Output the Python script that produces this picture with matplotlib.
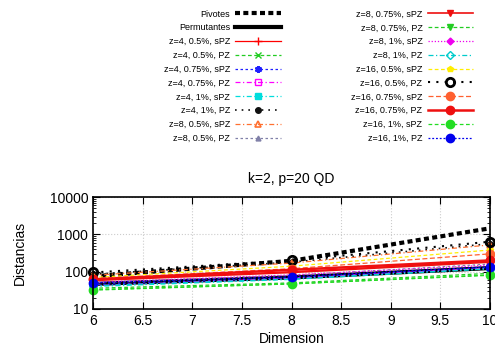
import matplotlib
matplotlib.use('Agg')
import matplotlib.pyplot as plt

plt.rcParams['font.family'] = ['Liberation Sans', 'DejaVu Sans']

dims = [6, 8, 10]

pivotes = [75, 195, 1450]
permutantes = [47, 70, 125]
z4_05_spz = [60, 100, 190]
z4_05_pz = [33, 47, 80]
z4_075_spz = [45, 68, 130]
z4_075_pz = [42, 66, 125]
z4_1_spz = [40, 62, 120]
z4_1_pz = [85, 180, 560]
z8_05_spz = [80, 170, 520]
z8_05_pz = [50, 80, 160]
z8_075_spz = [58, 95, 180]
z8_075_pz = [36, 50, 90]
z8_1_spz = [52, 82, 150]
z8_1_pz = [42, 64, 120]
z16_05_spz = [70, 140, 380]
z16_05_pz = [95, 200, 635]
z16_075_spz = [65, 120, 300]
z16_075_pz = [62, 112, 200]
z16_1_spz = [32, 47, 82]
z16_1_pz = [50, 73, 135]

series = [
    ('Pivotes', pivotes, dict(color='black', ls=(0, (1.2, 0.8)), lw=3)),
    ('Permutantes', permutantes, dict(color='black', ls='-', lw=3)),
    ('z=4, 0.5%, sPZ', z4_05_spz, dict(color='red', ls='-', lw=0.9, marker='+', ms=6)),
    ('z=4, 0.5%, PZ', z4_05_pz, dict(color='#22cc22', ls=(0, (3, 2)), lw=0.9, marker='x', ms=4)),
    ('z=4, 0.75%, sPZ', z4_075_spz, dict(color='#2020ff', ls=(0, (2, 2)), lw=0.9, marker=(6, 2, 0), ms=5, mew=1.5)),
    ('z=4, 0.75%, PZ', z4_075_pz, dict(color='#ff00ff', ls=(0, (4, 2, 1, 2)), lw=0.9, marker='s', ms=5, mfc='none')),
    ('z=4, 1%, sPZ', z4_1_spz, dict(color='#00dddd', ls=(0, (4, 2, 1, 2)), lw=0.9, marker='s', ms=4)),
    ('z=4, 1%, PZ', z4_1_pz, dict(color='#111111', ls=(0, (1, 3)), lw=1.2, marker='o', ms=4)),
    ('z=8, 0.5%, sPZ', z8_05_spz, dict(color='#ff7030', ls=(0, (4, 2, 1, 2)), lw=0.9, marker='^', ms=5, mfc='none', mew=1.2)),
    ('z=8, 0.5%, PZ', z8_05_pz, dict(color='#8080a8', ls=(0, (2, 2)), lw=0.9, marker='^', ms=3.5)),
    ('z=8, 0.75%, sPZ', z8_075_spz, dict(color='#ee1010', ls='-', lw=1.2, marker='v', ms=5)),
    ('z=8, 0.75%, PZ', z8_075_pz, dict(color='#22cc22', ls=(0, (3, 2)), lw=0.9, marker='v', ms=4)),
    ('z=8, 1%, sPZ', z8_1_spz, dict(color='#ee00ee', ls=(0, (1, 1.5)), lw=0.9, marker='D', ms=3.5)),
    ('z=8, 1%, PZ', z8_1_pz, dict(color='#00cccc', ls=(0, (4, 2, 1, 2)), lw=0.9, marker='D', ms=4, mfc='none')),
    ('z=16, 0.5%, sPZ', z16_05_spz, dict(color='#ffee00', ls=(0, (3, 2)), lw=0.9, marker='p', ms=4)),
    ('z=16, 0.5%, PZ', z16_05_pz, dict(color='black', ls=(0, (1, 3)), lw=1.5, marker='o', ms=6, mfc='none', mew=2)),
    ('z=16, 0.75%, sPZ', z16_075_spz, dict(color='#ff6030', ls=(0, (4, 2)), lw=0.9, marker='o', ms=6)),
    ('z=16, 0.75%, PZ', z16_075_pz, dict(color='#ee1010', ls='-', lw=1.8, marker='o', ms=6)),
    ('z=16, 1%, sPZ', z16_1_spz, dict(color='#22dd22', ls=(0, (3, 2)), lw=0.9, marker='o', ms=6)),
    ('z=16, 1%, PZ', z16_1_pz, dict(color='#0000ee', ls=(0, (1.5, 1.5)), lw=0.9, marker='o', ms=6)),
]

fig = plt.figure(figsize=(4.95, 3.56), dpi=100)
ax = fig.add_axes([93 / 495, 47 / 356, 397 / 495, 112 / 356])

handles = []
for label, vals, st in series:
    h, = ax.plot(dims, vals, label=label, clip_on=False, **st)
    handles.append(h)

ax.set_yscale('log')
ax.set_xlim(6, 10)
ax.set_ylim(10, 10000)
ax.set_xticks([6, 6.5, 7, 7.5, 8, 8.5, 9, 9.5, 10])
ax.set_xticklabels(['6', '6.5', '7', '7.5', '8', '8.5', '9', '9.5', '10'])
ax.set_yticks([10, 100, 1000, 10000])
ax.set_yticklabels(['10', '100', '1000', '10000'])
ax.tick_params(which='both', direction='in', top=True, right=True, labelsize=10)
ax.tick_params(which='major', length=5)
ax.tick_params(which='minor', length=2.5)
ax.grid(True, which='major', color='#cccccc', ls=':', lw=0.8)
for s in ax.spines.values():
    s.set_linewidth(1.2)
ax.set_xlabel('Dimension', fontsize=10, labelpad=3)
ax.set_ylabel('Distancias', fontsize=10, labelpad=16)
ax.set_title('k=2, p=20 QD', fontsize=10, pad=10)

fig.legend(handles=handles, ncol=2, markerfirst=False, frameon=False,
           loc='upper left', bbox_to_anchor=(160 / 495, 1 - 6 / 356),
           fontsize=6.5, handlelength=5.0, handletextpad=0.6,
           columnspacing=7.8, labelspacing=0.53, borderaxespad=0)

fig.savefig('out.png', dpi=100)
